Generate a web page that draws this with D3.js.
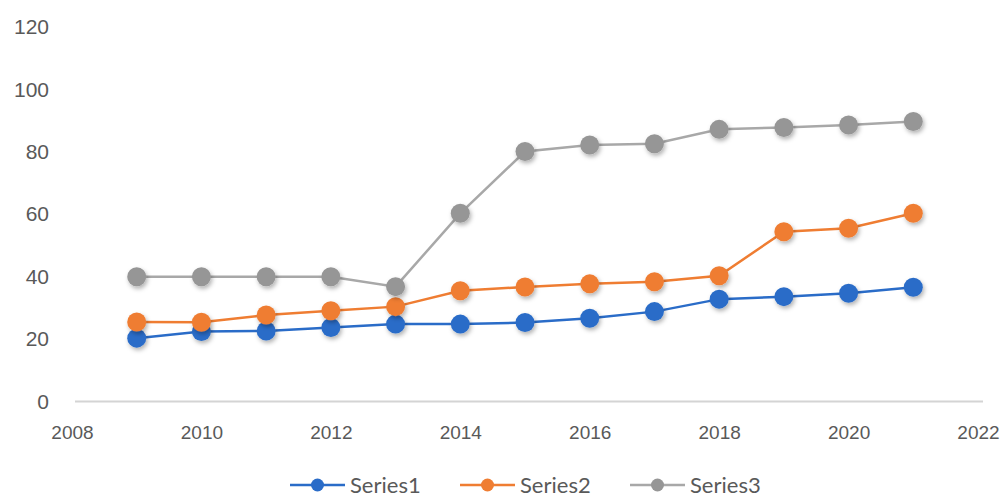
<!DOCTYPE html>
<html>
<head>
<meta charset="utf-8">
<script src="https://cdn.jsdelivr.net/npm/d3@7"></script>
<style>
  html, body { margin: 0; padding: 0; background: #fff; }
  svg { display: block; font-family: Lato, "Open Sans", sans-serif; }
  .tick text { fill: #595959; font-size: 19px; }
  .yaxis .tick text { font-size: 21px; }
  .legend text { fill: #595959; font-size: 22px; }
</style>
</head>
<body>
<svg id="chart" width="1008" height="498"></svg>
<script>
const years = [2009, 2010, 2011, 2012, 2013, 2014, 2015, 2016, 2017, 2018, 2019, 2020, 2021];
const series1 = [20.3, 22.4, 22.6, 23.7, 24.8, 24.8, 25.3, 26.7, 28.8, 32.8, 33.6, 34.7, 36.6];
const series2 = [25.5, 25.4, 27.7, 29.1, 30.4, 35.5, 36.7, 37.7, 38.4, 40.3, 54.4, 55.5, 60.3];
const series3 = [40, 40, 40, 40, 36.8, 60.3, 80.1, 82.2, 82.6, 87.2, 87.8, 88.6, 89.7];
const seriesNames = ["Series1", "Series2", "Series3"];
const xTicks = [2008, 2010, 2012, 2014, 2016, 2018, 2020, 2022];
const yTicks = [0, 20, 40, 60, 80, 100, 120];

const colors = ["#2a6cc8", "#ef7d32", "#969696"];
const allSeries = [series1, series2, series3];

const svg = d3.select("#chart");

const x = d3.scaleLinear().domain([2008, 2022]).range([72, 978]);
const y = d3.scaleLinear().domain([0, 120]).range([401.5, 27]);

const defs = svg.append("defs");
const f = defs.append("filter").attr("id", "shadow")
  .attr("x", "-50%").attr("y", "-50%").attr("width", "200%").attr("height", "200%");
f.append("feDropShadow")
  .attr("dx", 1.5).attr("dy", 2.5).attr("stdDeviation", 2)
  .attr("flood-color", "#000").attr("flood-opacity", 0.3);

// y axis labels only
svg.append("g")
  .attr("class", "yaxis")
  .attr("transform", `translate(75,0)`)
  .call(d3.axisLeft(y).tickValues(yTicks).tickSize(0).tickPadding(26))
  .call(g => g.select(".domain").remove());

// x axis
const xAxis = svg.append("g")
  .attr("transform", `translate(0,${y(0)})`)
  .call(d3.axisBottom(x).tickValues(xTicks).tickFormat(d3.format("d")).tickSize(0).tickPadding(24));
xAxis.select(".domain").remove();
xAxis.append("line")
  .attr("x1", 75).attr("x2", 983)
  .attr("stroke", "#d4d4d4").attr("stroke-width", 2);

const line = d3.line()
  .x((d, i) => x(years[i]))
  .y(d => y(d));

allSeries.forEach((vals, si) => {
  const g = svg.append("g");
  g.append("path")
    .datum(vals)
    .attr("fill", "none")
    .attr("stroke", si === 2 ? "#a8a8a8" : colors[si])
    .attr("stroke-width", 2.5)
    .attr("d", line);
  g.selectAll("circle")
    .data(vals)
    .join("circle")
    .attr("cx", (d, i) => x(years[i]))
    .attr("cy", d => y(d))
    .attr("r", 9.5)
    .attr("fill", colors[si])
    .attr("filter", "url(#shadow)");
});

// legend
const legendX = [290, 460, 630];
const legend = svg.append("g").attr("class", "legend");
seriesNames.forEach((name, i) => {
  const g = legend.append("g").attr("transform", `translate(${legendX[i]},485)`);
  g.append("line").attr("x1", 0).attr("x2", 55)
    .attr("stroke", i === 2 ? "#a8a8a8" : colors[i]).attr("stroke-width", 2.5);
  g.append("circle").attr("cx", 27.5).attr("r", 6.5).attr("fill", colors[i]);
  g.append("text").attr("x", 60).attr("dy", "0.36em").text(name);
});
</script>
</body>
</html>
